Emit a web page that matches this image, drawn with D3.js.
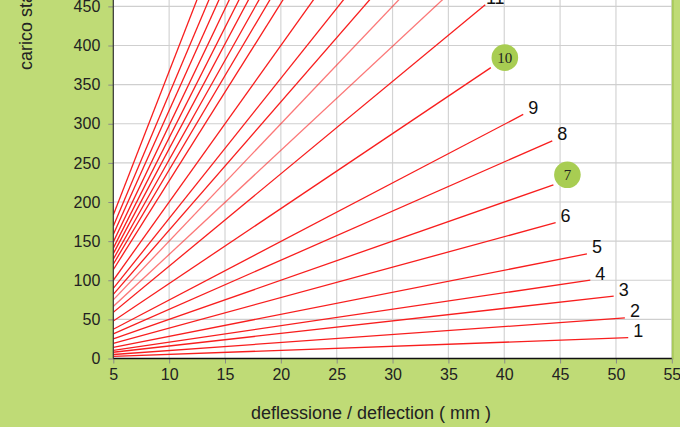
<!DOCTYPE html>
<html><head><meta charset="utf-8">
<script src="https://cdn.jsdelivr.net/npm/d3@7"></script>
<style>
html,body{margin:0;padding:0;background:#bfdb76;}
svg{display:block;}
</style></head>
<body>
<svg id="c" width="680" height="427"></svg>
<script>
// spring numbers (labels shown at the end of lines)
const springs = ["1","2","3","4","5","6","7","8","9","10","11","12","13","14","15","16","17","18","19","20","21","22","23","24","25"];
// stiffness: load per mm of deflection (read from the slopes)
const stiffness = [0.52,1.02,1.6,2.1,2.82,3.89,5.0,6.28,7.48,9.58,11.8,13.3,15.0,16.4,17.9,20.0,22.7,24.1,25.4,26.8,28.2,29.8,31.7,33.8,36.7];
// maximum deflection (mm) where each line ends
const maxDeflection = [51.1,50.8,49.8,47.7,47.4,44.6,44.4,44.3,41.7,38.8,38.3,40,40,40,40,40,40,40,40,40,40,40,40,40,40];
// which labels are highlighted with a circle
const highlighted = ["7","10"];
const xTicks = [5,10,15,20,25,30,35,40,45,50,55];
const yTicks = [0,50,100,150,200,250,300,350,400,450,500];
const xTitle = "deflessione / deflection ( mm )";
const yTitle = "carico statico / static load ( kg )";

const svg = d3.select("#c");
const L = 113.3, R = 671.8, B = 358.5, T = -32.75;
const x = d3.scaleLinear().domain([5,55]).range([L,R]);
const y = d3.scaleLinear().domain([0,500]).range([B,T]);

// plot area
svg.append("rect").attr("x",L).attr("y",T).attr("width",R-L).attr("height",B-T).attr("fill","#ffffff");

// grid
svg.append("g").selectAll("line").data(xTicks.slice(1)).join("line")
  .attr("x1",d=>x(d)).attr("x2",d=>x(d)).attr("y1",T).attr("y2",B)
  .attr("stroke","#d4d4d4").attr("stroke-width",1.2);
svg.append("g").selectAll("line").data(yTicks.slice(1)).join("line")
  .attr("x1",L).attr("x2",R).attr("y1",d=>y(d)).attr("y2",d=>y(d))
  .attr("stroke","#cfcfcf").attr("stroke-width",1.2);

// right border shade
svg.append("line").attr("x1",R+1).attr("x2",R+1).attr("y1",T).attr("y2",B+1)
  .attr("stroke","#a9c95c").attr("stroke-width",2);

svg.append("defs").append("clipPath").attr("id","pc")
  .append("rect").attr("x",L).attr("y",T).attr("width",R-L).attr("height",B-T);

const data = springs.map((s,i)=>({name:s,k:stiffness[i],end:maxDeflection[i]}));
const lightSet = ["12","13"];
const line = d3.line().x(d=>x(d[0])).y(d=>y(d[1]));
svg.append("g").attr("clip-path","url(#pc)").selectAll("path").data(data).join("path")
  .attr("d",d=>line([[5,5*d.k],[d.end,d.end*d.k]]))
  .attr("fill","none")
  .attr("stroke","#f81e1e")
  .attr("stroke-opacity",d=>lightSet.includes(d.name)?0.6:1)
  .attr("stroke-width",1.3);

// axes
const xAxis = d3.axisBottom(x).tickValues(xTicks).tickSize(5).tickPadding(5);
const gx = svg.append("g").attr("transform",`translate(0,${B})`).call(xAxis);
gx.select(".domain").remove();
gx.selectAll(".tick line").attr("stroke","#8a8a8a");
gx.selectAll(".tick text").attr("font-family","Liberation Sans, Arial, sans-serif").attr("font-size",16).attr("fill","#222").attr("dy","0.72em");

const yAxis = d3.axisLeft(y).tickValues(yTicks).tickSize(5).tickPadding(8);
const gy = svg.append("g").attr("transform",`translate(${L},0)`).call(yAxis);
gy.select(".domain").remove();
gy.selectAll(".tick line").attr("stroke","#8a8a8a");
gy.selectAll(".tick text").attr("font-family","Liberation Sans, Arial, sans-serif").attr("font-size",16).attr("fill","#222");

svg.append("line").attr("x1",L).attr("x2",R).attr("y1",B).attr("y2",B).attr("stroke","#111").attr("stroke-width",1.5);
svg.append("line").attr("x1",L).attr("x2",L).attr("y1",T).attr("y2",B).attr("stroke","#333").attr("stroke-width",1.2);

// line labels
const labelled = data.filter(d=>d.end*d.k < 500);
const lab = svg.append("g");
labelled.forEach(d=>{
  const ex = x(d.end), ey = y(d.end*d.k);
  if (highlighted.includes(d.name)) {
    lab.append("circle").attr("cx",ex+14).attr("cy",ey-10).attr("r",13.3).attr("fill","#a8cd52");
    lab.append("text").attr("x",ex+14).attr("y",ey-10).attr("dy","0.35em").attr("text-anchor","middle")
      .attr("font-family","Liberation Serif, Times New Roman, serif").attr("font-size",15).attr("fill","#222").text(d.name);
  } else {
    lab.append("text").attr("x",ex+10).attr("y",ey-7).attr("dy","0.36em").attr("text-anchor","middle")
      .attr("font-family","Liberation Sans, Arial, sans-serif").attr("font-size",18).attr("fill","#111").text(d.name);
  }
});

// titles
svg.append("text").attr("x",371).attr("y",419).attr("text-anchor","middle")
  .attr("font-family","Liberation Sans, Arial, sans-serif").attr("font-size",18).attr("fill","#222").text(xTitle);
svg.append("text").attr("transform","translate(32,70) rotate(-90)").attr("text-anchor","start")
  .attr("font-family","Liberation Sans, Arial, sans-serif").attr("font-size",18).attr("fill","#222").text(yTitle);
</script>
</body></html>
